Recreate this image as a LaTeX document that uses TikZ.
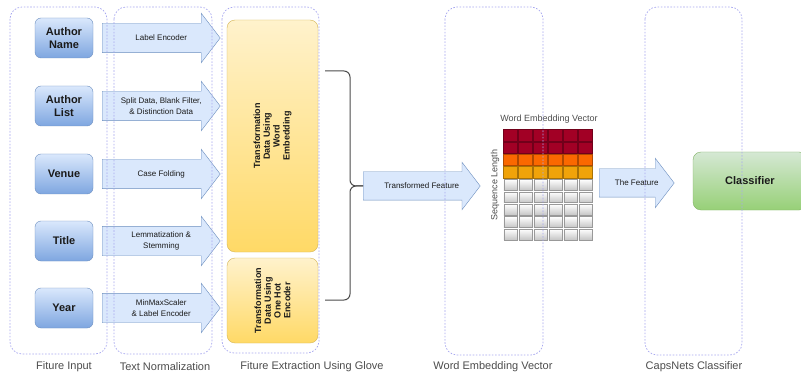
\documentclass[tikz,border=0pt]{standalone}
\usepackage{fontspec}
\setmainfont{Liberation Sans}
\usetikzlibrary{shapes.arrows, calc}

\definecolor{groupline}{HTML}{A8A8F0}
\definecolor{blueedge}{HTML}{6C8EBF}
\definecolor{bluetop}{HTML}{DAE8FC}
\definecolor{bluebot}{HTML}{7EA6E0}
\definecolor{arrowfill}{HTML}{DAE8FC}
\definecolor{yellowedge}{HTML}{D6B656}
\definecolor{yellowtop}{HTML}{FFF2CC}
\definecolor{yellowbot}{HTML}{FFD966}
\definecolor{greenedge}{HTML}{82B366}
\definecolor{greentop}{HTML}{D5E8D4}
\definecolor{greenbot}{HTML}{97D077}
\definecolor{crimson}{HTML}{A20025}
\definecolor{deeporange}{HTML}{FA6800}
\definecolor{amber}{HTML}{F0A30A}
\definecolor{textdark}{HTML}{1A1A1A}
\definecolor{labelgray}{HTML}{4D4D4D}

\tikzset{
    group/.style={draw=groupline, line width=0.7pt, dash pattern=on 1.6pt off 1.6pt, rounded corners=12pt},
    grouplabel/.style={font=\fontsize{11}{13}\selectfont, text=labelgray},
    inbox/.style={draw=blueedge, top color=bluetop, bottom color=bluebot, rounded corners=6pt,
        minimum width=58pt, minimum height=40pt, align=center, text=textdark,
        font=\fontsize{11}{12.5}\selectfont\bfseries},
    flow/.style={single arrow, draw=blueedge, fill=arrowfill, single arrow tip angle=105,
        inner xsep=0pt, inner ysep=14pt, single arrow head extend=10pt, anchor=tail},
    flowtext/.style={align=center, text=textdark, font=\fontsize{8}{11}\selectfont},
    glovebox/.style={draw=yellowedge, top color=yellowtop, bottom color=yellowbot, rounded corners=8pt,
        minimum width=91pt},
    glovetext/.style={rotate=90, align=center, text=textdark, font=\fontsize{9}{9.8}\selectfont\bfseries},
    cell/.style={draw=#1!70!black, fill=#1, line width=0.4pt},
    graycell/.style={draw=gray!80, top color=white, bottom color=gray!45, line width=0.4pt}
}

\begin{document}
\begin{tikzpicture}[x=1pt, y=-1pt]
    \clip (0,0) rectangle (801,377);
    \fill[white] (0,0) rectangle (801,377);

    % Input boxes
    \node[inbox] (name)  at (64,38)  {Author\\Name};
    \node[inbox] (list)  at (64,106) {Author\\List};
    \node[inbox] (venue) at (64,174) {Venue};
    \node[inbox] (title) at (64,241) {Title};
    \node[inbox] (year)  at (64,308) {Year};

    % Normalization arrows
    \node[flow, minimum height=118pt, inner ysep=14.5pt] (labenc) at (102,38) {};
    \node[flow, minimum height=118pt, inner ysep=14.5pt] (split) at (102,106) {};
    \node[flow, minimum height=118pt, inner ysep=14.5pt] (casefold) at (102,174) {};
    \node[flow, minimum height=118pt, inner ysep=14.5pt] (lemma) at (102,241) {};
    \node[flow, minimum height=118pt, inner ysep=14.5pt] (minmax) at (102,308) {};
    \node[flowtext] (labenctxt) at ($(labenc.tail)!0.5!(labenc.tip)$) {Label Encoder};
    \node[flowtext] (splittxt) at ($(split.tail)!0.5!(split.tip)$) {Split Data, Blank Filter,\\\& Distinction Data};
    \node[flowtext] (casefoldtxt) at ($(casefold.tail)!0.5!(casefold.tip)$) {Case Folding};
    \node[flowtext] (lemmatxt) at ($(lemma.tail)!0.5!(lemma.tip)$) {Lemmatization \&\\Stemming};
    \node[flowtext] (minmaxtxt) at ($(minmax.tail)!0.5!(minmax.tip)$) {MinMaxScaler\\\& Label Encoder};

    % Glove feature extraction
    \node[glovebox, minimum height=232pt] (wordbox) at (272.5,136) {};
    \node[glovetext] (wordtext) at (wordbox.center) {Transformation\\Data Using\\Word\\Embedding};
    \node[glovebox, minimum height=85pt] (hotbox) at (272.5,300.5) {};
    \node[glovetext] (hottext) at (hotbox.center) {Transformation\\Data Using\\One Hot\\Encoder};

    % Transformed feature arrow and bracket
    \node[flow, minimum height=117pt, single arrow head extend=9.5pt] (transf) at (363,186) {};
    \node[flowtext] (transftxt) at ($(transf.tail)!0.5!(transf.tip)$) {Transformed Feature};
    \coordinate (brtop) at (325,71);
    \coordinate (brbot) at (325,300);
    \draw[black!70, line width=1pt, rounded corners=6pt] (brtop) -| ([xshift=-13pt]transf.tail) -- (transf.tail);
    \draw[black!70, line width=1pt, rounded corners=6pt] (brbot) -| ([xshift=-13pt]transf.tail) -- (transf.tail);

    % Word embedding grid
    \foreach \c in {0,...,5} {
        \foreach \r/\col in {0/crimson, 1/crimson, 2/deeporange, 3/amber} {
            \draw[cell=\col] (503+15*\c+0.5, 129+12.4*\r+0.5) rectangle ++(14,11.4);
        }
        \foreach \r in {4,...,8} {
            \draw[graycell] (503+15*\c+0.8, 129+12.4*\r+0.8) rectangle ++(13.4,10.8);
        }
    }
    \node[font=\fontsize{9}{10}\selectfont, text=labelgray] (vectitle) at (549,119) {Word Embedding Vector};
    \node[rotate=90, font=\fontsize{9}{10}\selectfont, text=labelgray] (seqlen) at (495,185) {Sequence Length};

    % Classifier
    \node[flow, minimum height=75pt, single arrow head extend=10.5pt] (feature) at (599,183) {};
    \node[flowtext] (featuretxt) at ($(feature.tail)!0.5!(feature.tip)$) {The Feature};
    \node[draw=greenedge, top color=greentop, bottom color=greenbot, rounded corners=8pt,
        minimum width=114pt, minimum height=58pt, text=textdark,
        font=\fontsize{11}{12}\selectfont\bfseries] (classifier) at (750,181) {Classifier};

    % Group containers
    \draw[group] (10,7) rectangle (107,354);
    \draw[group] (114,7) rectangle (212,354);
    \draw[group] (222,7) rectangle (319,353);
    \draw[group] (445,7) rectangle (543,355);
    \draw[group] (645,7) rectangle (742,355);

    % Group labels
    \node[grouplabel] (lblinput) at (64,367) {Fiture Input};
    \node[grouplabel] (lblnorm) at (165,367) {Text Normalization};
    \node[grouplabel] (lblglove) at (312,367) {Fiture Extraction Using Glove};
    \node[grouplabel] (lblembed) at (493,367) {Word Embedding Vector};
    \node[grouplabel] (lblcaps) at (694,367) {CapsNets Classifier};
\end{tikzpicture}
\end{document}
